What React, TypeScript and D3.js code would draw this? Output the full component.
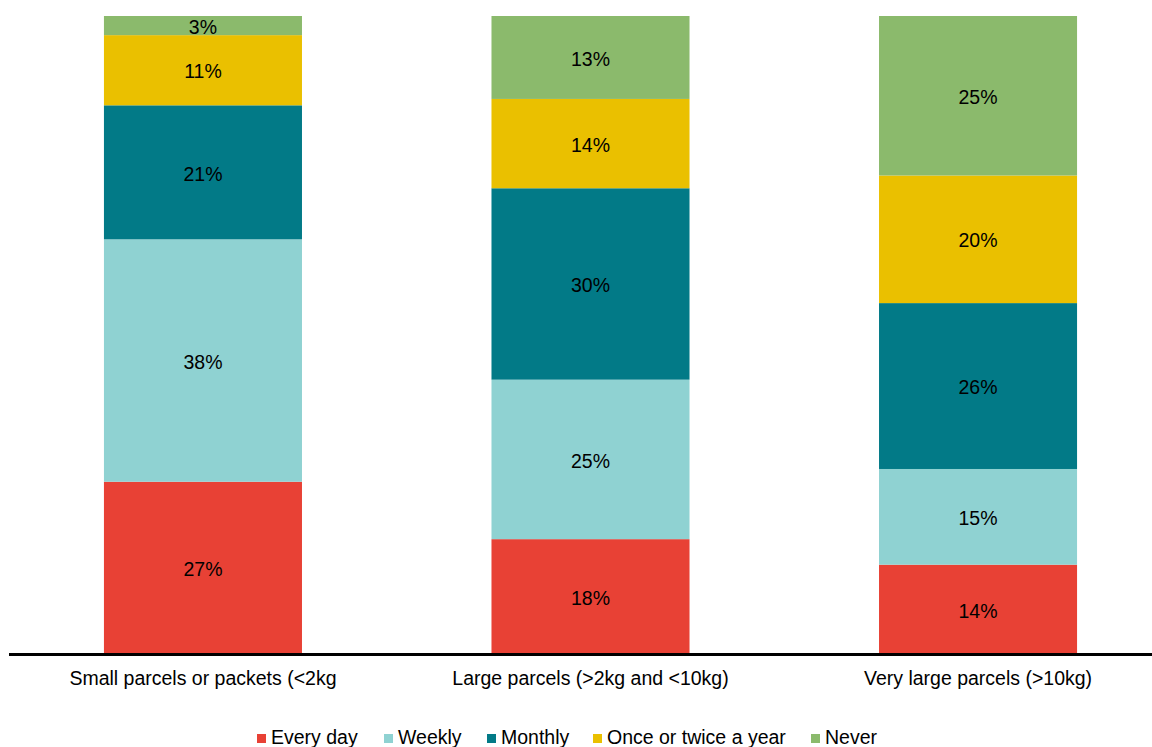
import React from "react";
import * as d3 from "d3";

const categories = [
  "Small parcels or packets (<2kg",
  "Large parcels (>2kg and <10kg)",
  "Very large parcels (>10kg)",
];
const seriesNames = ["Every day", "Weekly", "Monthly", "Once or twice a year", "Never"];
const everyDay = [27, 18, 14];
const weekly = [38, 25, 15];
const monthly = [21, 30, 26];
const onceOrTwice = [11, 14, 20];
const never = [3, 13, 25];
const colors = ["#E84135", "#8FD2D2", "#027A87", "#EAC000", "#8BBA6C"];

const W = 1152;
const H = 747;
const FONT = "'Liberation Sans', Arial, sans-serif";
const FS = 19.5;

export default function App() {
  const seriesValues = [everyDay, weekly, monthly, onceOrTwice, never];
  const rows = categories.map((c, i) => {
    const r: Record<string, any> = { category: c };
    seriesNames.forEach((s, k) => (r[s] = seriesValues[k][i]));
    return r;
  });
  const stack = d3.stack<any>().keys(seriesNames)(rows);

  const x = d3
    .scaleBand<string>()
    .domain(categories)
    .range([9, 1172])
    .paddingInner(0.489)
    .paddingOuter(0.245);
  const y = d3.scaleLinear().domain([0, 100]).range([654, 16]);

  // legend swatch positions, one per series
  const legendX = [257, 384, 487, 593, 811];

  return (
    <svg
      width={W}
      height={H}
      style={{ position: "absolute", left: 0, top: 0, background: "#fff" }}
      fontFamily={FONT}
    >
      {stack.map((layer, k) =>
        layer.map((d, i) => {
          const x0 = x(categories[i])!;
          const y0 = y(d[1]);
          const h = y(d[0]) - y(d[1]);
          const v = d[1] - d[0];
          return (
            <g key={`${k}-${i}`}>
              <rect x={x0} y={y0} width={x.bandwidth()} height={h} fill={colors[k]} />
              <text
                x={x0 + x.bandwidth() / 2}
                y={y0 + h / 2}
                dy="0.42em"
                textAnchor="middle"
                fontSize={FS}
                fill="#000"
              >
                {`${v}%`}
              </text>
            </g>
          );
        })
      )}
      <line x1={9} x2={W} y1={654.5} y2={654.5} stroke="#000" strokeWidth={3} />
      {categories.map((c) => (
        <text
          key={c}
          x={x(c)! + x.bandwidth() / 2}
          y={685}
          textAnchor="middle"
          fontSize={FS}
          fill="#000"
        >
          {c}
        </text>
      ))}
      {seriesNames.map((s, k) => (
        <g key={s}>
          <rect x={legendX[k]} y={734} width={9} height={9} fill={colors[k]} />
          <text x={legendX[k] + 14} y={744} fontSize={FS} fill="#000">
            {s}
          </text>
        </g>
      ))}
    </svg>
  );
}
